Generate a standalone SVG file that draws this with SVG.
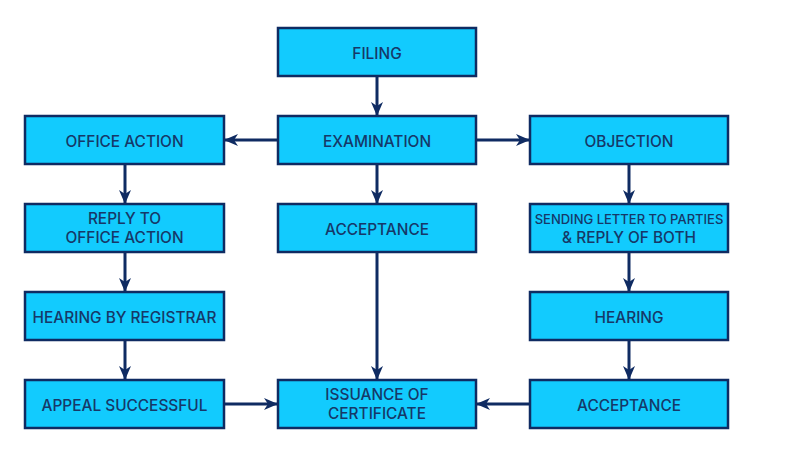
<svg xmlns="http://www.w3.org/2000/svg" width="808" height="468" viewBox="0 0 808 468">
<style>
.box{fill:#12cbfe;stroke:#0f2b62;stroke-width:2.5}
.t{font-family:Inter,"Open Sans","Liberation Sans",sans-serif;font-weight:500;font-size:15.4px;fill:#163868;text-anchor:middle}
.s{font-size:13px}
.c{stroke:#0f2b62;stroke-width:3;fill:none}
</style>
<defs>
<marker id="ah" markerUnits="userSpaceOnUse" markerWidth="14" markerHeight="12" refX="13" refY="6" orient="auto">
<path d="M0,0 L14,6 L0,12 L4,6 Z" fill="#0f2b62"/>
</marker>
</defs>
<rect width="808" height="468" fill="#fff"/>
<g id="connectors">
<line class="c" x1="377" y1="76" x2="377" y2="115" marker-end="url(#ah)"/>
<line class="c" x1="278" y1="140" x2="225" y2="140" marker-end="url(#ah)"/>
<line class="c" x1="476" y1="140" x2="529" y2="140" marker-end="url(#ah)"/>
<line class="c" x1="377" y1="164" x2="377" y2="203" marker-end="url(#ah)"/>
<line class="c" x1="377" y1="252" x2="377" y2="379" marker-end="url(#ah)"/>
<line class="c" x1="125" y1="164" x2="125" y2="203" marker-end="url(#ah)"/>
<line class="c" x1="125" y1="252" x2="125" y2="291" marker-end="url(#ah)"/>
<line class="c" x1="125" y1="340" x2="125" y2="379" marker-end="url(#ah)"/>
<line class="c" x1="629" y1="164" x2="629" y2="203" marker-end="url(#ah)"/>
<line class="c" x1="629" y1="252" x2="629" y2="291" marker-end="url(#ah)"/>
<line class="c" x1="629" y1="340" x2="629" y2="379" marker-end="url(#ah)"/>
<line class="c" x1="224" y1="404" x2="277" y2="404" marker-end="url(#ah)"/>
<line class="c" x1="530" y1="404" x2="477" y2="404" marker-end="url(#ah)"/>
</g>
<g id="filing"><rect class="box" x="278" y="28" width="198" height="48"/><text class="t" x="377" y="58.5">FILING</text></g>
<g id="examination"><rect class="box" x="278" y="116" width="198" height="48"/><text class="t" x="377" y="146.5">EXAMINATION</text></g>
<g id="office-action"><rect class="box" x="25" y="116" width="199" height="48"/><text class="t" x="124.5" y="146.5">OFFICE ACTION</text></g>
<g id="objection"><rect class="box" x="530" y="116" width="198" height="48"/><text class="t" x="629" y="146.5">OBJECTION</text></g>
<g id="reply"><rect class="box" x="25" y="204" width="199" height="48"/><text class="t" x="124.5" y="224">REPLY TO</text><text class="t" x="124.5" y="243">OFFICE ACTION</text></g>
<g id="acceptance-mid"><rect class="box" x="278" y="204" width="198" height="48"/><text class="t" x="377" y="234.5">ACCEPTANCE</text></g>
<g id="sending"><rect class="box" x="530" y="204" width="198" height="48"/><text class="t s" x="629" y="223.5">SENDING LETTER TO PARTIES</text><text class="t" x="629" y="243">&amp; REPLY OF BOTH</text></g>
<g id="hearing-registrar"><rect class="box" x="25" y="292" width="199" height="48"/><text class="t" x="124.5" y="322.5">HEARING BY REGISTRAR</text></g>
<g id="hearing"><rect class="box" x="530" y="292" width="198" height="48"/><text class="t" x="629" y="322.5">HEARING</text></g>
<g id="appeal"><rect class="box" x="25" y="380" width="199" height="48"/><text class="t" x="124.5" y="410.5">APPEAL SUCCESSFUL</text></g>
<g id="issuance"><rect class="box" x="278" y="380" width="198" height="48"/><text class="t" x="377" y="400">ISSUANCE OF</text><text class="t" x="377" y="419">CERTIFICATE</text></g>
<g id="acceptance-right"><rect class="box" x="530" y="380" width="198" height="48"/><text class="t" x="629" y="410.5">ACCEPTANCE</text></g>
</svg>
